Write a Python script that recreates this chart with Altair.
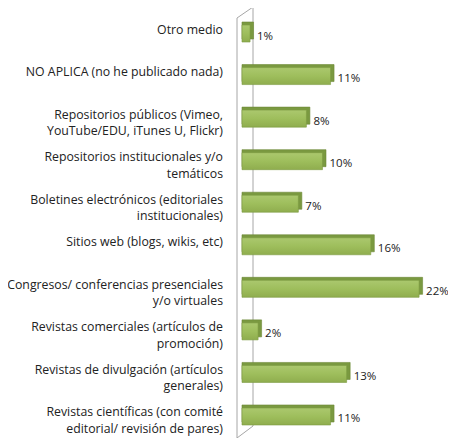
import altair as alt
import pandas as pd

categories = [
    "Otro medio",
    "NO APLICA (no he publicado nada)",
    "Repositorios públicos (Vimeo,\nYouTube/EDU, iTunes U, Flickr)",
    "Repositorios institucionales y/o\ntemáticos",
    "Boletines electrónicos (editoriales\ninstitucionales)",
    "Sitios web (blogs, wikis, etc)",
    "Congresos/ conferencias presenciales\ny/o virtuales",
    "Revistas comerciales (artículos de\npromoción)",
    "Revistas de divulgación (artículos\ngenerales)",
    "Revistas científicas (con comité\neditorial/ revisión de pares)",
]
values = [1, 11, 8, 10, 7, 16, 22, 2, 13, 11]
value_labels = [f"{v}%" for v in values]

df = pd.DataFrame({"label": categories, "value": values, "txt": value_labels})
one = pd.DataFrame({"k": [0]})

FONT = "Open Sans"
TEXT_COLOR = "#222222"

y_enc = alt.Y("label:N", sort=categories, axis=None,
              scale=alt.Scale(paddingInner=0.6, paddingOuter=0))
x_scale = alt.Scale(domain=[-0.621, 25.59], nice=False, zero=False)

base = alt.Chart(df)

wall_color = "#a6a6a6"
wall_left = alt.Chart(one).mark_rule(color=wall_color, strokeWidth=1).encode(
    x=alt.value(0), x2=alt.value(0), y=alt.value(-7), y2=alt.value(430))
wall_right = alt.Chart(one).mark_rule(color=wall_color, strokeWidth=1).encode(
    x=alt.value(16), x2=alt.value(16), y=alt.value(-18), y2=alt.value(401))
wall_top = alt.Chart(one).mark_rule(color=wall_color, strokeWidth=1).encode(
    x=alt.value(0), x2=alt.value(16), y=alt.value(-7), y2=alt.value(-18))
wall_floor = alt.Chart(one).mark_rule(color=wall_color, strokeWidth=1).encode(
    x=alt.value(16), x2=alt.value(0), y=alt.value(401), y2=alt.value(413))

depth = base.mark_bar(xOffset=3.5, yOffset=-3, color="#7a9940",
                      stroke="#6b8836", strokeWidth=0.6).encode(
    x=alt.X("value:Q", scale=x_scale, axis=None),
    x2=alt.datum(0),
    y=y_enc,
)

front = base.mark_bar(
    color=alt.Gradient(
        gradient="linear",
        stops=[
            alt.GradientStop(color="#abc86e", offset=0),
            alt.GradientStop(color="#9ebe5c", offset=0.5),
            alt.GradientStop(color="#8fad4e", offset=1),
        ],
        x1=0, x2=0, y1=0, y2=1,
    ),
    stroke="#7c9b42", strokeWidth=0.6,
).encode(
    x=alt.X("value:Q", scale=x_scale, axis=None),
    x2=alt.datum(0),
    y=y_enc,
)

vals = base.mark_text(align="left", baseline="middle", dx=7, dy=3,
                      font=FONT, fontSize=11.5, color=TEXT_COLOR).encode(
    x=alt.X("value:Q", scale=x_scale, axis=None),
    y=y_enc,
    text="txt:N",
)

cats = base.mark_text(align="right", baseline="top", dy=-10, lineBreak="\n",
                      lineHeight=16.5, font=FONT, fontSize=12.3,
                      color=TEXT_COLOR).encode(
    x=alt.value(-14),
    y=y_enc,
    text="label:N",
)

chart = alt.layer(
    wall_left, wall_right, wall_top, wall_floor, depth, front, vals, cats
).properties(
    width=211, height=400,
    autosize=alt.AutoSizeParams(type="none"),
    padding={"left": 229, "top": 17, "right": 0, "bottom": 13},
    background="white",
).configure_view(strokeWidth=0)

chart.save("out.html", embed_options={"renderer": "svg", "actions": False})
